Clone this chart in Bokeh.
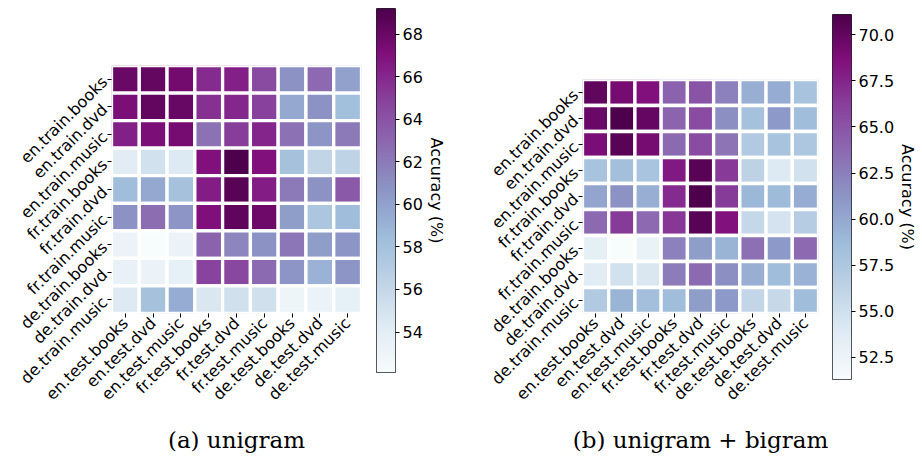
import numpy as np
from bokeh.plotting import figure
from bokeh.models import (FactorRange, Range1d, LinearColorMapper, ColumnDataSource,
                          FixedTicker, PrintfTickFormatter, Title)
from bokeh.layouts import row
from bokeh.palettes import BuPu9
from bokeh.embed import file_html
from bokeh.resources import INLINE

# ---------------- data ----------------
train_labels = ["en.train.books", "en.train.dvd", "en.train.music",
                "fr.train.books", "fr.train.dvd", "fr.train.music",
                "de.train.books", "de.train.dvd", "de.train.music"]
test_labels = ["en.test.books", "en.test.dvd", "en.test.music",
               "fr.test.books", "fr.test.dvd", "fr.test.music",
               "de.test.books", "de.test.dvd", "de.test.music"]

# (a) unigram accuracy (%), one list per training set
uni_en_books = [68.0, 68.2, 67.6, 65.8, 66.3, 64.4, 60.8, 62.9, 60.0]
uni_en_dvd = [67.2, 68.3, 68.1, 65.6, 66.0, 64.9, 59.6, 60.8, 58.3]
uni_en_music = [66.3, 67.2, 67.5, 62.4, 65.1, 66.1, 62.4, 60.7, 62.0]
uni_fr_books = [54.2, 55.2, 54.5, 67.0, 69.2, 67.0, 58.1, 56.2, 56.4]
uni_fr_dvd = [58.4, 59.6, 58.1, 66.5, 68.7, 66.5, 62.0, 60.8, 63.6]
uni_fr_music = [60.8, 62.7, 60.7, 67.1, 68.4, 67.8, 60.3, 57.6, 58.4]
uni_de_books = [53.3, 52.1, 53.3, 63.2, 61.5, 60.8, 62.2, 60.3, 60.7]
uni_de_dvd = [53.6, 53.3, 53.7, 64.8, 64.6, 62.8, 60.7, 59.1, 60.7]
uni_de_music = [54.4, 58.1, 59.4, 54.7, 55.3, 55.3, 53.1, 53.3, 53.7]

# (b) unigram + bigram accuracy (%)
bi_en_books = [70.1, 69.1, 68.6, 64.2, 65.0, 62.4, 59.6, 59.8, 58.0]
bi_en_dvd = [69.7, 71.1, 69.9, 64.1, 65.5, 61.6, 58.2, 61.0, 58.6]
bi_en_music = [68.9, 70.5, 69.1, 63.7, 65.5, 63.2, 57.3, 58.0, 57.6]
bi_fr_books = [58.0, 58.4, 57.9, 68.1, 70.5, 66.5, 56.4, 54.0, 54.9]
bi_fr_dvd = [60.2, 61.4, 59.6, 67.3, 71.0, 66.4, 59.0, 58.8, 59.8]
bi_fr_music = [63.8, 66.4, 63.8, 66.6, 70.5, 68.5, 55.8, 54.7, 57.0]
bi_de_books = [53.3, 51.3, 52.9, 62.4, 60.8, 59.2, 63.4, 61.0, 63.8]
bi_de_dvd = [53.7, 54.9, 54.3, 62.6, 63.7, 61.6, 59.6, 58.6, 59.4]
bi_de_music = [57.2, 59.2, 58.4, 58.6, 60.8, 61.0, 56.0, 55.7, 58.6]

uni_rows = [uni_en_books, uni_en_dvd, uni_en_music, uni_fr_books, uni_fr_dvd,
            uni_fr_music, uni_de_books, uni_de_dvd, uni_de_music]
bi_rows = [bi_en_books, bi_en_dvd, bi_en_music, bi_fr_books, bi_fr_dvd,
           bi_fr_music, bi_de_books, bi_de_dvd, bi_de_music]

uni_cbar_ticks = [54, 56, 58, 60, 62, 64, 66, 68]
bi_cbar_ticks = [52.5, 55.0, 57.5, 60.0, 62.5, 65.0, 67.5, 70.0]

captions = ["(a) unigram", "(b) unigram + bigram"]
cbar_title = "Accuracy (%)"


# ---------------- palette ----------------
def make_palette(n=256):
    stops = list(reversed(BuPu9))  # light -> dark
    rgb = np.array([[int(c[i:i + 2], 16) for i in (1, 3, 5)] for c in stops], float)
    pos = np.linspace(0, 1, len(stops))
    t = np.linspace(0, 1, n)
    out = []
    for v in t:
        r, g, b = (np.interp(v, pos, rgb[:, k]) for k in range(3))
        out.append("#%02x%02x%02x" % (int(round(r)), int(round(g)), int(round(b))))
    return out


PAL = make_palette()
SANS = "DejaVu Sans"


def heatmap(rows, low, high, caption, fw, fh, left, top, right, bottom, lw):
    xs, ys, vs = [], [], []
    for r, vals in zip(train_labels, rows):
        for c, v in zip(test_labels, vals):
            xs.append(c)
            ys.append(r)
            vs.append(v)
    src = ColumnDataSource(dict(x=xs, y=ys, v=vs))
    mapper = LinearColorMapper(palette=PAL, low=low, high=high)
    p = figure(x_range=FactorRange(*test_labels),
               y_range=FactorRange(*reversed(train_labels)),
               frame_width=fw, frame_height=fh,
               min_border_left=left, min_border_top=top,
               min_border_right=right, min_border_bottom=bottom,
               output_backend="svg", toolbar_location=None)
    p.frame_align = False
    p.rect(x="x", y="y", width=1, height=1, source=src,
           fill_color={"field": "v", "transform": mapper},
           line_color="white", line_width=lw)
    for ax in (p.xaxis[0], p.yaxis[0]):
        ax.major_label_orientation = np.pi / 4
        ax.major_label_text_font = SANS
        ax.major_label_text_font_size = "16px"
        ax.major_label_text_color = "black"
        ax.major_tick_out = 4
        ax.major_tick_in = 0
        ax.major_tick_line_color = "black"
        ax.major_tick_line_width = 1
        ax.axis_line_color = None
        ax.major_label_standoff = 3
    p.grid.visible = False
    p.outline_line_color = None
    p.add_layout(Title(text=caption, align="center", text_font="DejaVu Serif",
                       text_font_size="23px", text_font_style="normal",
                       text_color="black", standoff=23), "below")
    return p


def colorbar(low, high, ticks, fmt, fh, top, bottom, right):
    mapper = LinearColorMapper(palette=PAL, low=low, high=high)
    p = figure(x_range=Range1d(0, 1), y_range=Range1d(low, high),
               frame_width=19, frame_height=fh,
               min_border_left=0, min_border_top=top,
               min_border_bottom=bottom, min_border_right=right,
               x_axis_location=None, y_axis_location="right",
               output_backend="svg", toolbar_location=None)
    p.frame_align = False
    grad = np.linspace(low, high, 256).reshape(-1, 1)
    p.image(image=[grad], x=0, y=low, dw=1, dh=high - low, color_mapper=mapper)
    ax = p.yaxis[0]
    ax.ticker = FixedTicker(ticks=ticks)
    ax.formatter = PrintfTickFormatter(format=fmt)
    ax.major_label_text_font = SANS
    ax.major_label_text_font_size = "16px"
    ax.major_label_text_color = "black"
    ax.major_tick_out = 4
    ax.major_tick_in = 0
    ax.major_tick_line_color = "black"
    ax.minor_tick_line_color = None
    ax.axis_line_color = None
    ax.major_label_standoff = 3
    ax.axis_label = cbar_title
    ax.axis_label_text_font = SANS
    ax.axis_label_text_font_size = "16px"
    ax.axis_label_text_font_style = "normal"
    ax.axis_label_text_color = "black"
    ax.axis_label_standoff = 1
    p.grid.visible = False
    p.outline_line_color = "#222222"
    p.outline_line_width = 1
    return p


uni_low, uni_high = min(map(min, uni_rows)), max(map(max, uni_rows))
bi_low, bi_high = min(map(min, bi_rows)), max(map(max, bi_rows))

pa = heatmap(uni_rows, uni_low, uni_high, captions[0], 250, 248, 111, 65, 15, 140, 3.3)
ca = colorbar(uni_low, uni_high, uni_cbar_ticks, "%d", 364, 8, 81, 64)
pb = heatmap(bi_rows, bi_low, bi_high, captions[1], 236, 234, 123, 79, 14, 140, 3.3)
cb = colorbar(bi_low, bi_high, bi_cbar_ticks, "%.1f", 365, 14, 74, 62)

layout = row(pa, ca, pb, cb)
open("out.html", "w").write(file_html(layout, INLINE))
